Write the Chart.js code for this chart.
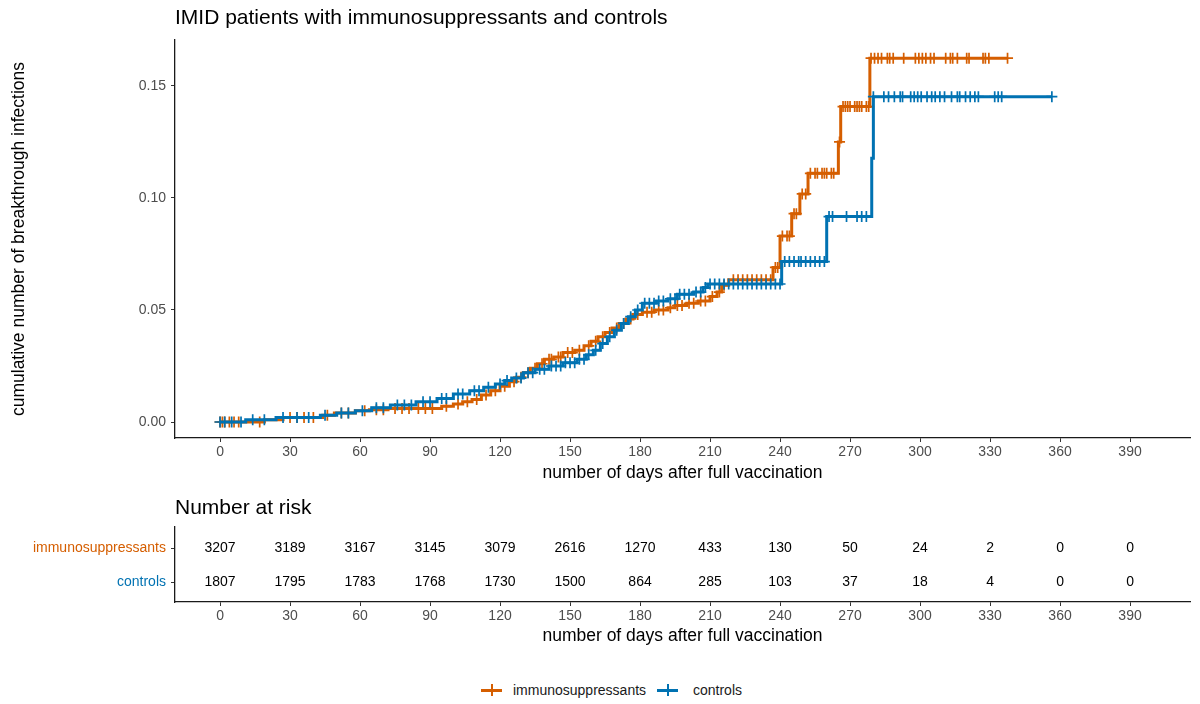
<!DOCTYPE html>
<html>
<head>
<meta charset="utf-8">
<script src="https://cdn.jsdelivr.net/npm/chart.js@4.4.1/dist/chart.umd.min.js"></script>
<style>
  body { margin: 0; background: #fff; width: 1200px; height: 704px; position: relative; overflow: hidden;
         font-family: "Liberation Sans", Arial, sans-serif; }
  #curve { position: absolute; left: 0; top: 0; }
  #risk { position: absolute; left: 0; top: 490px; }
  .lg-key { position: absolute; top: 684px; width: 21px; height: 12px; }
  .lg-key::before { content: ""; position: absolute; left: 0; right: 0; top: 4.5px; height: 3px; background: var(--c); }
  .lg-key::after { content: ""; position: absolute; left: 9.5px; width: 2px; top: 0; height: 12px; background: var(--c); }
  .lg-text { position: absolute; top: 681px; font-size: 14px; line-height: 18px; color: #1a1a1a; }
</style>
</head>
<body>
<canvas id="curve" width="1200" height="488"></canvas>
<canvas id="risk" width="1200" height="160"></canvas>
<span class="lg-key" style="left:481px; --c:#D55E00"></span>
<span class="lg-text" style="left:513px">immunosuppressants</span>
<span class="lg-key" style="left:657px; --c:#0072B2"></span>
<span class="lg-text" style="left:693px">controls</span>
<script>
// Kaplan-Meier style cumulative incidence

const groups = ['immunosuppressants', 'controls'];
const groupColors = ['#D55E00', '#0072B2'];

const dayTicks = [0, 30, 60, 90, 120, 150, 180, 210, 240, 270, 300, 330, 360, 390];
const cumTicks = [0, 0.05, 0.10, 0.15];

// [day, cumulative incidence] at each event step
const immSteps = [
    [0, 0], [19, 0.001], [27, 0.002], [44, 0.003], [49, 0.004], [58, 0.005], [64, 0.0055], [72, 0.006],
    [95, 0.007], [100, 0.008], [104, 0.009], [108, 0.010], [112, 0.012], [116, 0.014], [120, 0.016],
    [124, 0.018], [127, 0.020], [130, 0.022], [133, 0.024], [136, 0.026], [139, 0.028], [143, 0.029],
    [147, 0.031], [152, 0.032], [156, 0.034], [159, 0.036], [162, 0.038], [165, 0.040], [168, 0.042],
    [171, 0.044], [174, 0.046], [177, 0.048], [181, 0.049], [186, 0.050], [192, 0.051], [195, 0.052],
    [200, 0.053], [205, 0.054], [210, 0.056], [213, 0.058], [215, 0.061], [218, 0.0635], [237, 0.069],
    [240, 0.083], [245, 0.093], [248.5, 0.1018], [252, 0.111], [265, 0.125], [266, 0.1408],
    [278.5, 0.1624], [337.5, 0.1624]
];
const ctlSteps = [
    [0, 0], [11, 0.001], [24, 0.002], [43, 0.003], [50, 0.004], [58, 0.005], [65, 0.0064], [73, 0.0076],
    [84, 0.009], [93, 0.0105], [100, 0.0125], [107, 0.014], [113, 0.0155], [118, 0.017], [122, 0.0185],
    [125, 0.0196], [130, 0.022], [135, 0.0235], [141, 0.025], [147, 0.0265], [153, 0.028], [157, 0.030],
    [160, 0.032], [163, 0.035], [166, 0.038], [169, 0.041], [172, 0.044], [175, 0.047], [178, 0.050],
    [181, 0.053], [187, 0.054], [192, 0.055], [196, 0.057], [203, 0.058], [207, 0.060], [209, 0.0616],
    [240.7, 0.0716], [260, 0.0917], [279.3, 0.1177], [280, 0.1452], [356.6, 0.1452]
];

// [day, cumulative incidence] of censored patients (+ marks)
const immCensor = [
    [0, 0], [1, 0], [2, 0], [4, 0], [6, 0], [8, 0], [17, 0],
    [30, 0.002], [33, 0.002], [36, 0.002], [40, 0.002], [46, 0.003], [52, 0.004], [55, 0.004], [62, 0.005],
    [67, 0.0055], [70, 0.0055], [75, 0.006], [78, 0.006], [81, 0.006], [85, 0.006], [88, 0.006], [91, 0.006],
    [97, 0.007], [102, 0.008], [106, 0.009], [110, 0.010], [114, 0.012], [118, 0.014], [122, 0.016],
    [126, 0.018], [129, 0.020], [132, 0.022], [135, 0.024], [138, 0.026], [141, 0.028], [142, 0.028],
    [145, 0.029], [146, 0.029], [149, 0.031], [151, 0.031], [154, 0.032], [158, 0.034], [161, 0.036],
    [164, 0.038], [167, 0.040], [170, 0.042], [173, 0.044], [176, 0.046], [179, 0.048], [183, 0.049],
    [185, 0.049], [188, 0.050], [190, 0.050], [193, 0.051], [196, 0.052], [198, 0.052], [201, 0.053],
    [203, 0.053], [206, 0.054], [208, 0.054], [211, 0.056], [214, 0.058], [216, 0.061],
    [220, 0.0635], [222, 0.0635], [224, 0.0635], [226, 0.0635], [228, 0.0635], [230, 0.0635],
    [232, 0.0635], [234, 0.0635], [236, 0.0635], [238, 0.069], [239, 0.069],
    [241, 0.083], [243, 0.083], [244, 0.083], [246, 0.093], [247, 0.093], [249.5, 0.1018], [251, 0.1018],
    [253, 0.111], [255, 0.111], [256, 0.111], [258, 0.111], [259, 0.111], [260, 0.111], [262, 0.111],
    [263, 0.111], [265.5, 0.125],
    [267, 0.1408], [268, 0.1408], [269, 0.1408], [270, 0.1408], [272, 0.1408], [273, 0.1408],
    [274, 0.1408], [275, 0.1408], [277, 0.1408], [278, 0.1408],
    [279, 0.1624], [280.5, 0.1624], [282, 0.1624], [283.5, 0.1624], [286, 0.1624], [287, 0.1624],
    [288.5, 0.1624], [293, 0.1624], [298, 0.1624], [299.5, 0.1624], [301, 0.1624], [302.5, 0.1624],
    [304.5, 0.1624], [306, 0.1624], [311, 0.1624], [313, 0.1624], [314, 0.1624], [316, 0.1624],
    [320, 0.1624], [321, 0.1624], [327, 0.1624], [328, 0.1624], [329.5, 0.1624], [337.5, 0.1624]
];
const ctlCensor = [
    [0, 0], [2, 0], [5, 0], [9, 0], [14, 0.001], [19, 0.001], [27, 0.002], [33, 0.002], [38, 0.002],
    [45, 0.003], [52, 0.004], [55, 0.004], [61, 0.005], [67, 0.0064], [70, 0.0064], [76, 0.0076],
    [79, 0.0076], [82, 0.0076], [87, 0.009], [90, 0.009], [95, 0.0105], [97, 0.0105], [102, 0.0125],
    [104, 0.0125], [109, 0.014], [111, 0.014], [115, 0.0155], [120, 0.017], [123, 0.0185], [127, 0.0196],
    [129, 0.0196], [132, 0.022], [134, 0.022], [137, 0.0235], [139, 0.0235], [142, 0.025], [144, 0.025],
    [146, 0.025], [148, 0.0265], [150, 0.0265], [152, 0.0265], [154, 0.028], [156, 0.028], [158, 0.030],
    [161, 0.032], [164, 0.035], [167, 0.038], [170, 0.041], [173, 0.044], [176, 0.047], [179, 0.050],
    [182, 0.053], [184, 0.053], [186, 0.053], [188, 0.054], [190, 0.054], [193, 0.055], [195, 0.055],
    [197, 0.057], [199, 0.057], [201, 0.057], [204, 0.058], [206, 0.058], [208, 0.060],
    [210, 0.0616], [212, 0.0616], [214, 0.0616], [216, 0.0616], [218, 0.0616], [220, 0.0616],
    [222, 0.0616], [224, 0.0616], [226, 0.0616], [228, 0.0616], [230, 0.0616], [232, 0.0616],
    [234, 0.0616], [236, 0.0616], [238, 0.0616], [240, 0.0616],
    [242, 0.0716], [244, 0.0716], [246, 0.0716], [248, 0.0716], [249, 0.0716], [251, 0.0716],
    [253, 0.0716], [255, 0.0716], [257, 0.0716], [259, 0.0716],
    [261, 0.0917], [262.5, 0.0917], [268.5, 0.0917], [273, 0.0917], [275, 0.0917], [277, 0.0917],
    [280, 0.1452], [284.5, 0.1452], [286.5, 0.1452], [289, 0.1452], [291.5, 0.1452], [292.5, 0.1452],
    [296, 0.1452], [297.5, 0.1452], [299, 0.1452], [300.5, 0.1452], [303, 0.1452], [305, 0.1452],
    [306.5, 0.1452], [308.5, 0.1452], [310.5, 0.1452], [313.5, 0.1452], [316, 0.1452], [317, 0.1452],
    [319.5, 0.1452], [321.5, 0.1452], [323.5, 0.1452], [325, 0.1452], [332, 0.1452], [333.5, 0.1452],
    [335, 0.1452], [356.5, 0.1452]
];

// number at risk table
const riskDays = [0, 30, 60, 90, 120, 150, 180, 210, 240, 270, 300, 330, 360, 390];
const immRisk = [3207, 3189, 3167, 3145, 3079, 2616, 1270, 433, 130, 50, 24, 2, 0, 0];
const ctlRisk = [1807, 1795, 1783, 1768, 1730, 1500, 864, 285, 103, 37, 18, 4, 0, 0];

const FONT = '"Liberation Sans", Arial, sans-serif';
const TICK_COLOR = '#4d4d4d';
const X_MIN = -19.3, X_MAX = 415.7;

const toPoints = pairs => pairs.map(([d, v]) => ({ x: d, y: v }));

// draws a panel title flush with the left edge of the plot area
const panelTitle = {
    id: 'panelTitle',
    afterDraw(chart, args, opts) {
        const ctx = chart.ctx;
        ctx.save();
        ctx.font = `${opts.size}px ${FONT}`;
        ctx.fillStyle = '#000';
        ctx.textBaseline = 'middle';
        ctx.textAlign = 'left';
        ctx.fillText(opts.text, chart.chartArea.left, opts.y);
        ctx.restore();
    }
};

function xAxis(height, titlePad) {
    return {
        type: 'linear',
        min: X_MIN,
        max: X_MAX,
        afterBuildTicks: s => { s.ticks = dayTicks.map(v => ({ value: v })); },
        afterFit: s => { s.height = height; },
        grid: { drawOnChartArea: false, drawTicks: true, tickLength: 4, color: '#333' },
        border: { display: true, color: '#1a1a1a', width: 1.3 },
        ticks: { color: TICK_COLOR, font: { family: FONT, size: 14 }, padding: 2, maxRotation: 0 },
        title: {
            display: true, text: 'number of days after full vaccination',
            color: '#000', font: { family: FONT, size: 17.5 }, padding: { top: 0, bottom: titlePad }
        }
    };
}

function stepLine(label, pairs, color) {
    return {
        label, data: toPoints(pairs), borderColor: color, backgroundColor: color,
        borderWidth: 3, stepped: 'before', pointRadius: 0, fill: false
    };
}

function censorMarks(label, pairs, color) {
    return {
        label, data: toPoints(pairs), showLine: false, borderColor: color, backgroundColor: color,
        pointStyle: 'cross', pointRadius: 5.5, borderWidth: 1.7
    };
}

new Chart(document.getElementById('curve'), {
    type: 'line',
    data: {
        datasets: [
            stepLine(groups[1], ctlSteps, groupColors[1]),
            censorMarks(groups[1], ctlCensor, groupColors[1]),
            stepLine(groups[0], immSteps, groupColors[0]),
            censorMarks(groups[0], immCensor, groupColors[0])
        ]
    },
    options: {
        responsive: false,
        animation: false,
        devicePixelRatio: 1,
        layout: { padding: { top: 40, right: 10, left: 0, bottom: 0 } },
        plugins: {
            legend: { display: false },
            tooltip: { enabled: false },
            panelTitle: { text: 'IMID patients with immunosuppressants and controls', size: 21, y: 18 }
        },
        scales: {
            x: xAxis(50, 4),
            y: {
                type: 'linear',
                min: -0.00714,
                max: 0.1705,
                afterBuildTicks: s => { s.ticks = cumTicks.map(v => ({ value: v })); },
                afterFit: s => { s.width = 175; },
                grid: { drawOnChartArea: false, drawTicks: true, tickLength: 4, color: '#333' },
                border: { display: true, color: '#1a1a1a', width: 1.3 },
                ticks: {
                    color: TICK_COLOR, font: { family: FONT, size: 14 }, padding: 5,
                    callback: v => v.toFixed(2)
                },
                title: {
                    display: true, text: 'cumulative number of breakthrough infections',
                    color: '#000', font: { family: FONT, size: 17.5 }, padding: { top: 9, bottom: 0 }
                }
            }
        }
    },
    plugins: [panelTitle]
});

// writes the at-risk counts at their (day, row) positions
const riskText = {
    id: 'riskText',
    afterDatasetsDraw(chart) {
        const ctx = chart.ctx;
        ctx.save();
        ctx.font = `14px ${FONT}`;
        ctx.fillStyle = '#000';
        ctx.textAlign = 'center';
        ctx.textBaseline = 'middle';
        chart.data.datasets.forEach((ds, i) => {
            chart.getDatasetMeta(i).data.forEach((pt, j) => {
                ctx.fillText(String(ds.counts[j]), pt.x, pt.y);
            });
        });
        ctx.restore();
    }
};

const rowOf = { 2: 0, 1: 1 };

new Chart(document.getElementById('risk'), {
    type: 'scatter',
    data: {
        datasets: [
            { label: groups[0], counts: immRisk, data: riskDays.map(d => ({ x: d, y: 2 })), pointRadius: 0 },
            { label: groups[1], counts: ctlRisk, data: riskDays.map(d => ({ x: d, y: 1 })), pointRadius: 0 }
        ]
    },
    options: {
        responsive: false,
        animation: false,
        devicePixelRatio: 1,
        layout: { padding: { top: 37, right: 10, left: 0, bottom: 0 } },
        plugins: {
            legend: { display: false },
            tooltip: { enabled: false },
            panelTitle: { text: 'Number at risk', size: 21, y: 18 }
        },
        scales: {
            x: xAxis(48, 3),
            y: {
                type: 'linear',
                min: 0.412,
                max: 2.618,
                afterBuildTicks: s => { s.ticks = [{ value: 2 }, { value: 1 }]; },
                afterFit: s => { s.width = 175; },
                grid: { drawOnChartArea: false, drawTicks: true, tickLength: 4, color: '#333' },
                border: { display: true, color: '#1a1a1a', width: 1.3 },
                ticks: {
                    font: { family: FONT, size: 14 }, padding: 5,
                    color: c => groupColors[rowOf[c.tick.value]],
                    callback: v => groups[rowOf[v]]
                }
            }
        }
    },
    plugins: [panelTitle, riskText]
});
</script>
</body>
</html>
